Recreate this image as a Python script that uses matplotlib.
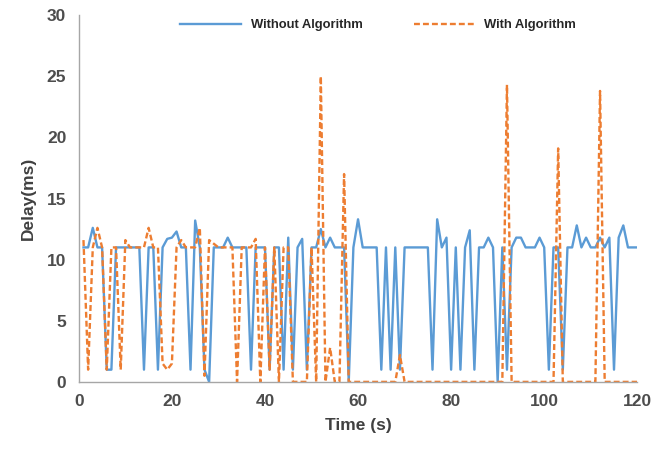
import numpy as np
import matplotlib
matplotlib.use("Agg")
import matplotlib.pyplot as plt

plt.rcParams['font.family'] = ['Liberation Sans', 'DejaVu Sans']

# time axis (s)
time_s = np.arange(1, 121)

# delay without algorithm (ms), one value per second
without_alg = [
    11, 11, 12.6, 11, 11, 1, 1, 11, 11, 11,
    11, 11, 11, 1, 11, 11, 1, 11, 11.7, 11.8,
    12.3, 11, 11, 1, 13.2, 11, 1, 0, 11, 11,
    11, 11.8, 11, 11, 11, 11, 1, 11, 11, 11,
    1, 11, 11, 1, 11.8, 1, 11, 11.7, 1, 11,
    11, 12.5, 11, 11.8, 11, 11, 11, 0, 11, 13.3,
    11, 11, 11, 11, 1, 11, 1, 11, 1, 11,
    11, 11, 11, 11, 11, 1, 13.3, 11, 11.8, 1,
    11, 1, 11, 12.4, 1, 11, 11, 11.8, 11, 0,
    11, 1, 11, 11.8, 11.8, 11, 11, 11, 11.8, 11,
    1, 11, 11, 1, 11, 11, 12.8, 11, 11.8, 11,
    11, 11.8, 11, 11.8, 1, 11.8, 12.8, 11, 11, 11,
]

# delay with algorithm (ms)
with_alg = [
    11.6, 1, 11, 12.6, 11, 1, 11, 11, 1, 11.6,
    11, 11, 11, 11, 12.6, 11, 11, 1.5, 1, 1.5,
    11, 11.6, 11, 11, 11, 12.6, 0.5, 11.6, 11.3, 11,
    11, 11, 11, 0, 11, 11, 11, 11.7, 0, 11,
    1, 11, 0, 11, 11, 0, 0, 0, 0, 11,
    0, 25, 0, 2.8, 0, 0, 17, 0, 0, 0,
    0, 0, 0, 0, 0, 0, 0, 0, 2.2, 0,
    0, 0, 0, 0, 0, 0, 0, 0, 0, 0,
    0, 0, 0, 0, 0, 0, 0, 0, 0, 0,
    0, 24.3, 0, 0, 0, 0, 0, 0, 0, 0,
    0, 0, 19.1, 0, 0, 0, 0, 0, 0, 0,
    0, 23.8, 0, 0, 0, 0, 0, 0, 0, 0,
]

fig = plt.figure(figsize=(6.68, 4.59), dpi=100)
ax = fig.add_axes([0.118, 0.168, 0.836, 0.799])

ax.plot(time_s, without_alg, color='#5B9BD5', lw=1.7, label='Without Algorithm')
ax.plot(time_s, with_alg, color='#ED7D31', lw=1.7, ls=(0, (2.5, 1.3)),
        label='With Algorithm')

ax.set_xlim(0, 120)
ax.set_ylim(0, 30)
ax.set_xticks(range(0, 121, 20))
ax.set_yticks(range(0, 31, 5))

for s in ['top', 'right']:
    ax.spines[s].set_visible(False)
for s in ['left', 'bottom']:
    ax.spines[s].set_color('#A6A6A6')
    ax.spines[s].set_linewidth(1)

ax.tick_params(axis='both', length=0, pad=9, labelsize=12.5, labelcolor='#4D4D4D')
for lab in ax.get_xticklabels() + ax.get_yticklabels():
    lab.set_fontweight('bold')

ax.set_xlabel('Time (s)', fontsize=12.5, fontweight='bold', color='#404040', labelpad=6)
ax.set_ylabel('Delay(ms)', fontsize=12.5, fontweight='bold', color='#404040', labelpad=8)

leg = ax.legend(loc='upper left', bbox_to_anchor=(180 / 668, 1 - 19 / 459),
                bbox_transform=fig.transFigure, ncol=2, frameon=False,
                borderpad=0, borderaxespad=0, handlelength=4.65, handletextpad=0.78,
                columnspacing=3.9,
                prop={'family': ['Liberation Sans Narrow', 'Liberation Sans'],
                      'weight': 'bold', 'size': 9.4})
for t in leg.get_texts():
    t.set_color('#262626')

fig.savefig('out.png', dpi=100)
